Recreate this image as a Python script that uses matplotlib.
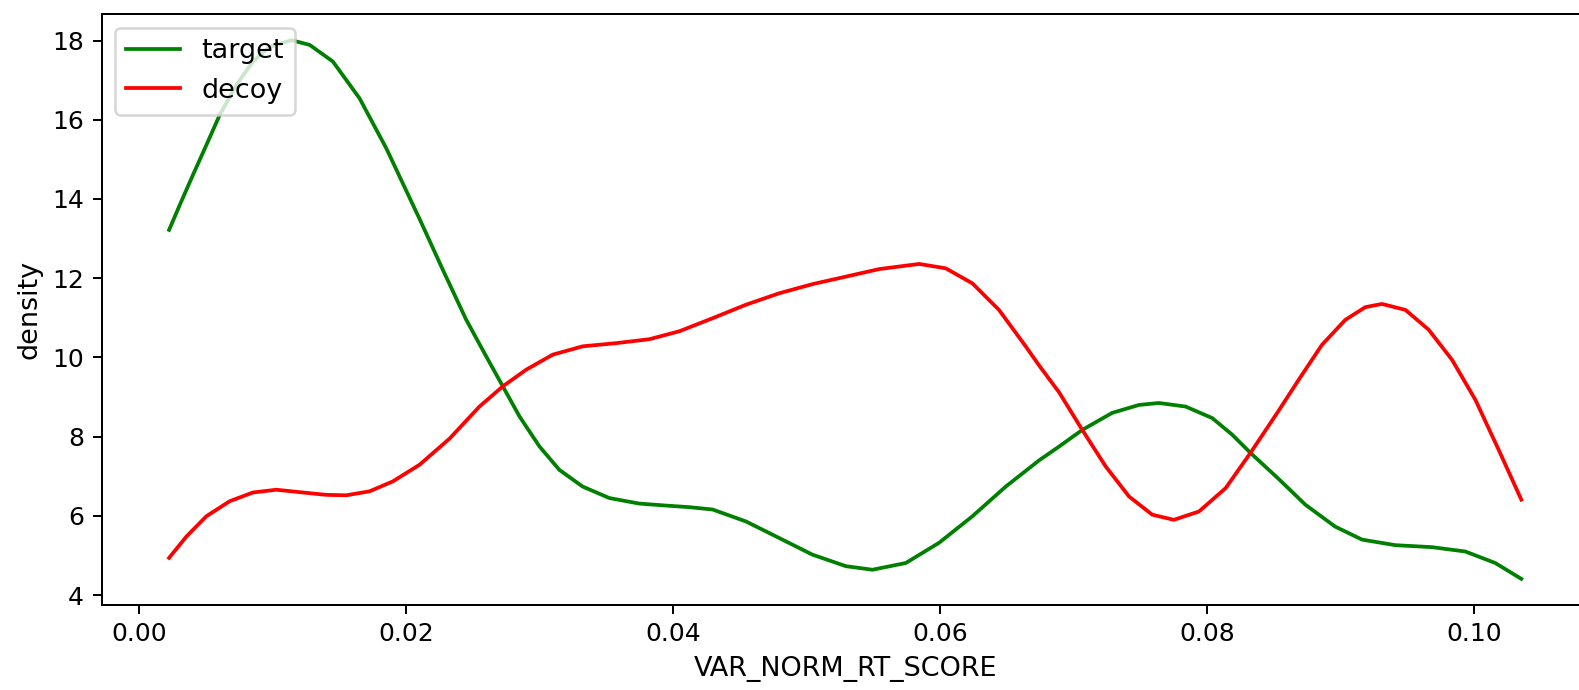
import matplotlib
matplotlib.use("Agg")
import matplotlib.pyplot as plt

# Values
target_x = [0.00225, 0.00305, 0.00404, 0.00504, 0.00604, 0.00729, 0.00853, 0.00978,
            0.01141, 0.01278, 0.01452, 0.01652, 0.01852, 0.02105, 0.02276, 0.02451,
            0.02600, 0.02725, 0.02850, 0.03000, 0.03149, 0.03323, 0.03523, 0.03748,
            0.03948, 0.04122, 0.04297, 0.04546, 0.04796, 0.05045, 0.05295, 0.05494,
            0.05744, 0.05993, 0.06243, 0.06493, 0.06742, 0.06892, 0.07066, 0.07290,
            0.07490, 0.07640, 0.07840, 0.08039, 0.08189, 0.08326, 0.08538, 0.08738,
            0.08960, 0.09162, 0.09412, 0.09686, 0.09936, 0.10160, 0.10355]
target_y = [13.22, 13.85, 14.61, 15.36, 16.12, 16.88, 17.47, 17.84,
            18.01, 17.89, 17.47, 16.54, 15.28, 13.47, 12.21, 10.95,
            10.03, 9.27, 8.51, 7.75, 7.16, 6.74, 6.45, 6.31,
            6.26, 6.22, 6.16, 5.86, 5.44, 5.02, 4.73, 4.64,
            4.81, 5.32, 5.99, 6.74, 7.40, 7.75, 8.17, 8.60,
            8.80, 8.85, 8.76, 8.47, 8.05, 7.59, 6.93, 6.28,
            5.73, 5.40, 5.26, 5.21, 5.10, 4.81, 4.41]

decoy_x = [0.00225, 0.00355, 0.00504, 0.00679, 0.00853, 0.01028, 0.01228, 0.01403,
           0.01552, 0.01727, 0.01901, 0.02101, 0.02326, 0.02550, 0.02725, 0.02900,
           0.03099, 0.03323, 0.03573, 0.03823, 0.04047, 0.04297, 0.04546, 0.04796,
           0.05045, 0.05295, 0.05544, 0.05844, 0.06043, 0.06243, 0.06442, 0.06642,
           0.06742, 0.06892, 0.07066, 0.07241, 0.07416, 0.07590, 0.07752, 0.07940,
           0.08140, 0.08326, 0.08538, 0.08688, 0.08862, 0.09037, 0.09187, 0.09311,
           0.09487, 0.09661, 0.09836, 0.10011, 0.10185, 0.10355]
decoy_y = [4.94, 5.48, 5.99, 6.37, 6.59, 6.66, 6.59, 6.53,
           6.52, 6.62, 6.87, 7.29, 7.95, 8.76, 9.27, 9.69,
           10.07, 10.28, 10.36, 10.46, 10.66, 10.99, 11.33, 11.62,
           11.85, 12.04, 12.23, 12.36, 12.25, 11.87, 11.20, 10.28,
           9.80, 9.12, 8.17, 7.25, 6.49, 6.03, 5.90, 6.11,
           6.70, 7.59, 8.66, 9.44, 10.32, 10.95, 11.27, 11.35,
           11.20, 10.70, 9.94, 8.93, 7.67, 6.41]

series_labels = ["target", "decoy"]
x_ticks = [0.00, 0.02, 0.04, 0.06, 0.08, 0.10]
y_ticks = [4, 6, 8, 10, 12, 14, 16, 18]

fig = plt.figure(figsize=(1579 / 180, 690 / 180), dpi=180)
ax = fig.add_axes([0.0644, 0.1232, 0.9426, 0.8565])

ax.plot(target_x, target_y, color="green", lw=1.5, label=series_labels[0])
ax.plot(decoy_x, decoy_y, color="red", lw=1.5, label=series_labels[1])

ax.set_xlim(-0.0028, 0.1087)
ax.set_ylim(3.75, 18.67)
ax.set_xticks(x_ticks)
ax.set_xticklabels([f"{v:.2f}" for v in x_ticks])
ax.set_yticks(y_ticks)
ax.tick_params(labelsize=10)
ax.set_xlabel("VAR_NORM_RT_SCORE", fontsize=10.8)
ax.set_ylabel("density", fontsize=10.8)
ax.legend(loc="upper left", fontsize=10.8)

fig.savefig("out.png", dpi=180)
